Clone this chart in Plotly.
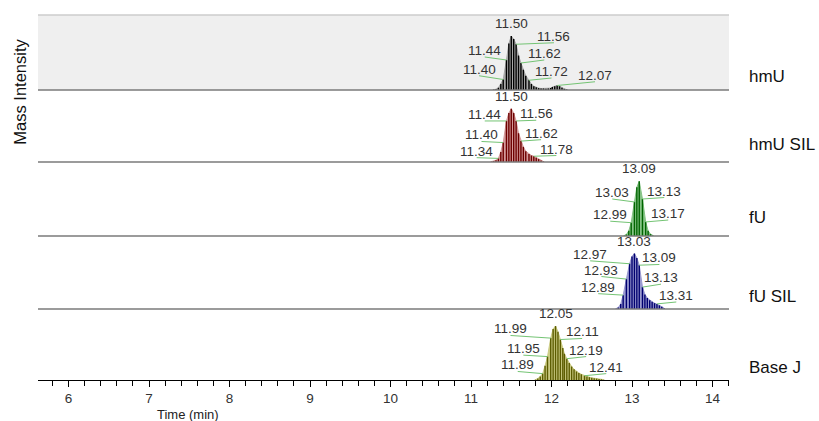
import plotly.graph_objects as go
from plotly.subplots import make_subplots

# Retention times (min) and relative intensities (% of each trace's panel height)
hmu_time = [11.28, 11.31, 11.34, 11.37, 11.40, 11.44, 11.47, 11.50, 11.53, 11.56, 11.59,
            11.62, 11.65, 11.68, 11.72, 11.75, 11.78, 11.81, 11.84, 11.87, 11.90, 11.93,
            11.96, 11.99, 12.01, 12.04, 12.07, 12.10, 12.13, 12.16, 12.19]
hmu_int = [0.5, 1, 3, 8, 14, 40, 62, 72, 68, 61, 46,
           36, 27, 19, 13, 8, 5, 3.5, 2.5, 2, 2, 1.5,
           2, 2.5, 4, 5, 6, 5, 3, 1.5, 0.5]

hmu_sil_time = [11.25, 11.28, 11.31, 11.34, 11.37, 11.40, 11.44, 11.47, 11.50, 11.53, 11.56,
                11.59, 11.62, 11.65, 11.68, 11.72, 11.75, 11.78, 11.81, 11.84, 11.87, 11.90]
hmu_sil_int = [0.3, 1, 2.5, 5, 14, 27, 57, 68, 74, 68, 57,
               40, 29, 21, 15, 11, 9, 8, 6, 4, 2, 0.7]

fu_time = [12.90, 12.93, 12.96, 12.99, 13.03, 13.06, 13.09, 13.13, 13.17, 13.20, 13.23, 13.26]
fu_int = [0.5, 2, 7, 18, 46, 66, 74, 50, 19, 7, 2.5, 0.8]

fu_sil_time = [12.80, 12.83, 12.86, 12.89, 12.93, 12.97, 13.00, 13.03, 13.06, 13.09, 13.13,
               13.16, 13.19, 13.22, 13.25, 13.28, 13.31, 13.34, 13.37, 13.40]
fu_sil_int = [0.5, 2, 7, 19, 41, 62, 72, 76, 70, 60, 30,
              20, 15, 12, 10, 8, 7, 5, 3, 1]

basej_time = [11.80, 11.83, 11.86, 11.89, 11.92, 11.95, 11.99, 12.02, 12.05, 12.08, 12.11,
              12.14, 12.16, 12.19, 12.22, 12.25, 12.28, 12.31, 12.34, 12.37, 12.41, 12.44,
              12.47, 12.50, 12.53, 12.56, 12.59, 12.62, 12.65]
basej_int = [0.5, 2, 5, 9, 20, 33, 59, 72, 76, 68, 57,
             45, 37, 30, 24, 19, 15, 12, 10, 8, 6, 5,
             4, 3, 2.5, 2, 1.5, 1, 0.5]

trace_names = ["hmU", "hmU SIL", "fU", "fU SIL", "Base J"]
apex_times = [11.50, 11.50, 13.09, 13.03, 12.05]

# Labelled scan times with the placement of their text (time, text x in min, text y in %)
hmu_labels = [(11.44, 11.17, 44), (11.40, 11.10, 19), (11.56, 12.03, 63),
              (11.62, 11.91, 40), (11.72, 12.00, 16), (12.07, 12.54, 11)]
hmu_sil_labels = [(11.44, 11.17, 57), (11.56, 11.81, 58), (11.40, 11.13, 28.5),
                  (11.62, 11.87, 31), (11.34, 11.07, 6), (11.78, 12.06, 9)]
fu_labels = [(13.03, 12.755, 50), (13.13, 13.40, 52), (12.99, 12.73, 20), (13.17, 13.45, 21.6)]
fu_sil_labels = [(12.97, 12.48, 66), (13.09, 13.34, 61), (12.93, 12.62, 44.5),
                 (13.13, 13.36, 34), (12.89, 12.58, 21), (13.31, 13.55, 9.6)]
basej_labels = [(11.99, 11.49, 62.7), (12.11, 12.38, 58.5), (11.95, 11.65, 35),
                (12.19, 12.43, 33), (11.89, 11.58, 12), (12.41, 12.68, 9)]

x_ticks = [6, 7, 8, 9, 10, 11, 12, 13, 14]

times = [hmu_time, hmu_sil_time, fu_time, fu_sil_time, basej_time]
intens = [hmu_int, hmu_sil_int, fu_int, fu_sil_int, basej_int]
labels = [hmu_labels, hmu_sil_labels, fu_labels, fu_sil_labels, basej_labels]
stick_colors = ["#000000", "#6e0000", "#006400", "#000070", "#5c5c00"]
fill_colors = ["#a8a8a8", "#d49a9a", "#86c486", "#9a9ad0", "#cccc84"]
leader_color = "#74c474"
font = "Liberation Sans, Arial, sans-serif"

row_heights = [75, 72, 74, 73, 71]
fig = make_subplots(rows=5, cols=1, shared_xaxes=True, vertical_spacing=0,
                    row_heights=row_heights)

for k in range(5):
    r = k + 1
    t, y = times[k], intens[k]
    # light filled profile
    fig.add_trace(go.Scatter(x=t, y=y, mode="lines", fill="tozeroy",
                             line=dict(color=fill_colors[k], width=1),
                             fillcolor=fill_colors[k], hoverinfo="skip"), row=r, col=1)
    # dark stick for every scan
    sx, sy = [], []
    for ti, yi in zip(t, y):
        sx += [ti, ti, None]
        sy += [0, yi, None]
    fig.add_trace(go.Scatter(x=sx, y=sy, mode="lines",
                             line=dict(color=stick_colors[k], width=1.4),
                             hoverinfo="skip"), row=r, col=1)
    # leader lines from each labelled scan to its text
    lx, ly = [], []
    for (lt, tx, ty) in labels[k]:
        lx += [lt, tx, None]
        ly += [y[t.index(lt)], ty, None]
    fig.add_trace(go.Scatter(x=lx, y=ly, mode="lines", line=dict(color=leader_color, width=1),
                             hoverinfo="skip"), row=r, col=1)
    yref = "y" if r == 1 else f"y{r}"
    xref = "x" if r == 1 else f"x{r}"
    for (lt, tx, ty) in labels[k]:
        fig.add_annotation(x=tx, y=ty, xref=xref, yref=yref, text=f"{lt:.2f}",
                           showarrow=False, xanchor="center", yanchor="bottom", yshift=-3,
                           font=dict(family=font, size=13.5, color="#333333"))
    at = apex_times[k]
    fig.add_annotation(x=at, y=y[t.index(at)], xref=xref, yref=yref, text=f"{at:.2f}",
                       showarrow=False, xanchor="center", yanchor="bottom", yshift=3,
                       font=dict(family=font, size=13.5, color="#333333"))
    fig.update_yaxes(range=[0, 100], visible=False, row=r, col=1)
    if r < 5:
        fig.add_shape(type="line", xref="paper", yref=f"{yref} domain", x0=0, x1=1, y0=0, y1=0,
                      line=dict(color="#7a7a7a", width=1.5))

# shaded first panel with its top border
fig.add_shape(type="rect", xref="paper", yref="y domain", x0=0, x1=1, y0=0, y1=1,
              fillcolor="#efefef", line=dict(width=0), layer="below")
fig.add_shape(type="line", xref="paper", yref="y domain", x0=0, x1=1, y0=1, y1=1,
              line=dict(color="#cccccc", width=1.5))

# trace names on the right of each panel
name_y = [0.832, 0.644, 0.444, 0.230, 0.033]
for name, ny in zip(trace_names, name_y):
    fig.add_annotation(x=1.026, y=ny, xref="paper", yref="paper", text=name, showarrow=False,
                       xanchor="left", yanchor="middle",
                       font=dict(family=font, size=17, color="#111111"))

fig.add_annotation(x=-0.026, y=0.79, xref="paper", yref="paper", text="Mass Intensity",
                   showarrow=False, textangle=-90, xanchor="center", yanchor="middle",
                   font=dict(family=font, size=16.5, color="#111111"))
fig.add_annotation(x=0.217, y=-0.094, xref="paper", yref="paper", text="Time (min)",
                   showarrow=False, xanchor="center", yanchor="middle",
                   font=dict(family=font, size=13, color="#222222"))

fig.update_xaxes(range=[5.62, 14.205], showgrid=False, zeroline=False, showline=False,
                 showticklabels=False, ticks="")
fig.update_xaxes(row=5, col=1, showline=True, linecolor="black", linewidth=1,
                 ticks="outside", ticklen=6, tickcolor="black", tickwidth=1,
                 tickvals=x_ticks, ticktext=[str(v) for v in x_ticks], showticklabels=True,
                 tickfont=dict(family=font, size=13.5, color="#333333"),
                 minor=dict(dtick=0.2, tick0=6, ticks="outside", ticklen=5,
                            tickcolor="black", tickwidth=1))

fig.update_layout(width=819, height=421, margin=dict(l=38, r=90, t=15, b=41),
                  plot_bgcolor="white", paper_bgcolor="white", showlegend=False)

fig.write_html("out.html")
